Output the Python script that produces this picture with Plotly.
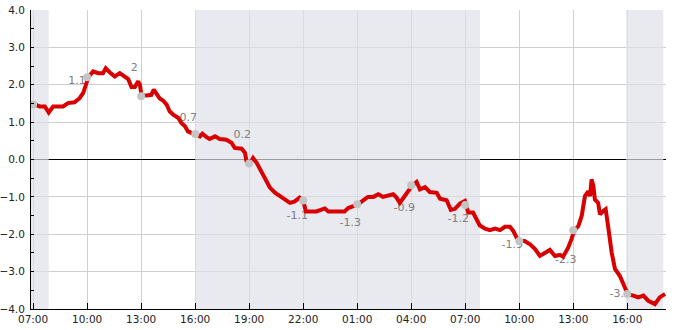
import plotly.graph_objects as go
from datetime import datetime, timedelta

# ---- data -------------------------------------------------------------
times = [
    "2024-01-15 07:00", "2024-01-15 07:22", "2024-01-15 07:39", "2024-01-15 07:52",
    "2024-01-15 08:07", "2024-01-15 08:40", "2024-01-15 08:56", "2024-01-15 09:18",
    "2024-01-15 09:35", "2024-01-15 09:47", "2024-01-15 09:56", "2024-01-15 10:04",
    "2024-01-15 10:20", "2024-01-15 10:37", "2024-01-15 10:53", "2024-01-15 11:02",
    "2024-01-15 11:16", "2024-01-15 11:32", "2024-01-15 11:49", "2024-01-15 12:06",
    "2024-01-15 12:17", "2024-01-15 12:28", "2024-01-15 12:39", "2024-01-15 12:50",
    "2024-01-15 12:56", "2024-01-15 13:01", "2024-01-15 13:18", "2024-01-15 13:34",
    "2024-01-15 13:42", "2024-01-15 13:51", "2024-01-15 14:02", "2024-01-15 14:13",
    "2024-01-15 14:25", "2024-01-15 14:35", "2024-01-15 14:47", "2024-01-15 15:04",
    "2024-01-15 15:14", "2024-01-15 15:26", "2024-01-15 15:36", "2024-01-15 15:48",
    "2024-01-15 16:02", "2024-01-15 16:16", "2024-01-15 16:24", "2024-01-15 16:38",
    "2024-01-15 16:48", "2024-01-15 17:06", "2024-01-15 17:22", "2024-01-15 17:44",
    "2024-01-15 18:01", "2024-01-15 18:12", "2024-01-15 18:35", "2024-01-15 18:46",
    "2024-01-15 18:51", "2024-01-15 19:02", "2024-01-15 19:13", "2024-01-15 19:25",
    "2024-01-15 19:36", "2024-01-15 19:52", "2024-01-15 20:09", "2024-01-15 20:26",
    "2024-01-15 20:42", "2024-01-15 20:59", "2024-01-15 21:16", "2024-01-15 21:32",
    "2024-01-15 21:48", "2024-01-15 22:00", "2024-01-15 22:09", "2024-01-15 22:44",
    "2024-01-15 23:12", "2024-01-15 23:24", "2024-01-16 00:18", "2024-01-16 00:30",
    "2024-01-16 00:47", "2024-01-16 01:04", "2024-01-16 01:20", "2024-01-16 01:36",
    "2024-01-16 01:54", "2024-01-16 02:10", "2024-01-16 02:26", "2024-01-16 02:42",
    "2024-01-16 03:00", "2024-01-16 03:11", "2024-01-16 03:22", "2024-01-16 03:39",
    "2024-01-16 03:56", "2024-01-16 04:04", "2024-01-16 04:18", "2024-01-16 04:29",
    "2024-01-16 04:46", "2024-01-16 05:02", "2024-01-16 05:25", "2024-01-16 05:36",
    "2024-01-16 05:58", "2024-01-16 06:12", "2024-01-16 06:26", "2024-01-16 06:42",
    "2024-01-16 06:59", "2024-01-16 07:02", "2024-01-16 07:10", "2024-01-16 07:26",
    "2024-01-16 07:38", "2024-01-16 07:48", "2024-01-16 08:06", "2024-01-16 08:22",
    "2024-01-16 08:39", "2024-01-16 08:56", "2024-01-16 09:12", "2024-01-16 09:29",
    "2024-01-16 09:40", "2024-01-16 09:51", "2024-01-16 10:02", "2024-01-16 10:18",
    "2024-01-16 10:36", "2024-01-16 10:52", "2024-01-16 11:09", "2024-01-16 11:26",
    "2024-01-16 11:42", "2024-01-16 11:59", "2024-01-16 12:16", "2024-01-16 12:26",
    "2024-01-16 12:43", "2024-01-16 12:54", "2024-01-16 13:04", "2024-01-16 13:17",
    "2024-01-16 13:28", "2024-01-16 13:39", "2024-01-16 13:50", "2024-01-16 13:56",
    "2024-01-16 14:01", "2024-01-16 14:07", "2024-01-16 14:12", "2024-01-16 14:23",
    "2024-01-16 14:29", "2024-01-16 14:40", "2024-01-16 14:48", "2024-01-16 14:56",
    "2024-01-16 15:08", "2024-01-16 15:19", "2024-01-16 15:35", "2024-01-16 15:47",
    "2024-01-16 16:01", "2024-01-16 16:20", "2024-01-16 16:36", "2024-01-16 16:54",
    "2024-01-16 17:10", "2024-01-16 17:32", "2024-01-16 17:48", "2024-01-16 18:06",
]
values = [
    1.49, 1.42, 1.42, 1.26,
    1.42, 1.42, 1.51, 1.53,
    1.64, 1.78, 2.00, 2.20,
    2.36, 2.31, 2.31, 2.44,
    2.33, 2.22, 2.31, 2.22,
    2.15, 1.94, 1.94, 2.09,
    2.00, 1.72, 1.71, 1.73,
    1.87, 1.76, 1.63, 1.58,
    1.47, 1.29, 1.20, 1.11,
    0.98, 0.89, 0.75, 0.71,
    0.69, 0.62, 0.69, 0.60,
    0.55, 0.62, 0.55, 0.53,
    0.45, 0.31, 0.29, 0.18,
    -0.04, -0.11, 0.04, -0.09,
    -0.27, -0.53, -0.75, -0.89,
    -0.98, -1.08, -1.16, -1.12,
    -1.02, -1.10, -1.39, -1.39,
    -1.31, -1.39, -1.39, -1.30,
    -1.26, -1.20, -1.09, -1.00,
    -1.00, -0.93, -1.00, -0.97,
    -0.93, -1.02, -1.16, -0.97,
    -0.76, -0.69, -0.60, -0.80,
    -0.74, -0.87, -0.89, -1.05,
    -1.09, -1.35, -1.32, -1.18,
    -1.11, -1.22, -1.42, -1.42,
    -1.60, -1.76, -1.85, -1.89,
    -1.85, -1.89, -1.80, -1.80,
    -1.91, -2.09, -2.18, -2.18,
    -2.27, -2.39, -2.58, -2.51,
    -2.42, -2.58, -2.55, -2.60,
    -2.36, -2.13, -1.89, -1.78,
    -1.51, -0.98, -0.85, -0.98,
    -0.53, -0.71, -1.07, -1.16,
    -1.47, -1.38, -1.33, -1.78,
    -2.49, -2.93, -3.11, -3.33,
    -3.60, -3.64, -3.69, -3.64,
    -3.78, -3.87, -3.69, -3.60,
]

marker_times = [
    "2024-01-15 07:00", "2024-01-15 10:00", "2024-01-15 13:00", "2024-01-15 16:00",
    "2024-01-15 19:00", "2024-01-15 22:00", "2024-01-16 01:00", "2024-01-16 04:00",
    "2024-01-16 07:00", "2024-01-16 10:00", "2024-01-16 13:00", "2024-01-16 16:00",
]
marker_values = [1.47, 2.20, 1.69, 0.68, -0.11, -1.10, -1.20, -0.69, -1.22, -2.18, -1.89, -3.60]
marker_labels = ["", "1.1", "2", "0.7", "0.2", "-1.1", "-1.3", "-0.9", "-1.2", "-1.9", "-2.3", "-3.1"]

night_starts = ["2024-01-15 06:53", "2024-01-15 16:00", "2024-01-16 15:56"]
night_ends = ["2024-01-15 07:52", "2024-01-16 07:49", "2024-01-16 18:00"]

x_range = ["2024-01-15 06:53", "2024-01-16 18:09"]
y_range = [-4, 4]

# ---- label offsets (pixels; style) -----------------------------------
label_dx_px = [-7, -10, -7, -7, -7, -6, -7, -7, -7, -7, -7.6, -7]
label_dy_px = [0, -3.7, 27.7, 15.7, 28.3, -15.3, -19, -23, -14.3, -4.3, -29.7, 0]

W, H = 685, 330
M_L, M_R, M_T, M_B = 31, 19, 10, 21
plot_w = W - M_L - M_R
plot_h = H - M_T - M_B

fmt = "%Y-%m-%d %H:%M"
xr0 = datetime.strptime(x_range[0], fmt)
xr1 = datetime.strptime(x_range[1], fmt)
sec_per_px = (xr1 - xr0).total_seconds() / plot_w
units_per_px = (y_range[1] - y_range[0]) / plot_h

label_x = [datetime.strptime(t, fmt) + timedelta(seconds=dx * sec_per_px)
           for t, dx in zip(marker_times, label_dx_px)]
label_y = [v + dy * units_per_px for v, dy in zip(marker_values, label_dy_px)]

FONT = "DejaVu Sans"

fig = go.Figure()

fig.add_trace(go.Scatter(
    x=label_x, y=label_y, text=marker_labels, mode="text",
    textfont=dict(family=FONT, size=11, color="#808080"),
    hoverinfo="skip", showlegend=False,
))

fig.add_trace(go.Scatter(
    x=times, y=values, mode="lines",
    line=dict(color="#d80000", width=4),
    showlegend=False,
))

fig.add_trace(go.Scatter(
    x=marker_times, y=marker_values, mode="markers",
    marker=dict(color="#c4c4c4", size=8),
    showlegend=False,
))

# zero line first, then the translucent night shading over it
fig.add_shape(type="line", xref="x", yref="y", x0=x_range[0], x1=x_range[1], y0=0, y1=0,
              line=dict(color="black", width=1), layer="between")

for s, e in zip(night_starts, night_ends):
    fig.add_shape(type="rect", xref="x", yref="y", x0=s, x1=e, y0=y_range[0], y1=y_range[1],
                  fillcolor="rgba(223,223,233,0.69)", line=dict(width=0),
                  layer="between")

fig.update_layout(
    width=W, height=H,
    margin=dict(l=M_L, r=M_R, t=M_T, b=M_B, pad=0, autoexpand=False),
    paper_bgcolor="white", plot_bgcolor="white",
    font=dict(family=FONT, size=11, color="#222222"),
    showlegend=False,
    xaxis=dict(
        type="date", range=x_range, automargin=False,
        tick0="2024-01-15 07:00", dtick=3 * 3600 * 1000,
        tickformat="%H:%M",
        showgrid=True, gridcolor="#cfcfcf", gridwidth=1,
        ticks="inside", ticklen=6, tickcolor="black",
        showline=True, linecolor="black", linewidth=1,
        zeroline=False,
        tickfont=dict(family=FONT, size=10.5, color="#222222"),
    ),
    yaxis=dict(
        range=y_range, dtick=1, tick0=0, tickformat=".1f", automargin=False,
        showgrid=True, gridcolor="#cfcfcf", gridwidth=1,
        zeroline=False,
        ticks="inside", ticklen=3, tickcolor="black",
        minor=dict(dtick=0.5, ticks="inside", ticklen=3, tickcolor="black", showgrid=False),
        showline=True, linecolor="black", linewidth=1,
        ticklabelstandoff=3,
        tickfont=dict(family=FONT, size=10.5, color="#222222"),
    ),
)

fig.write_html("out.html")
